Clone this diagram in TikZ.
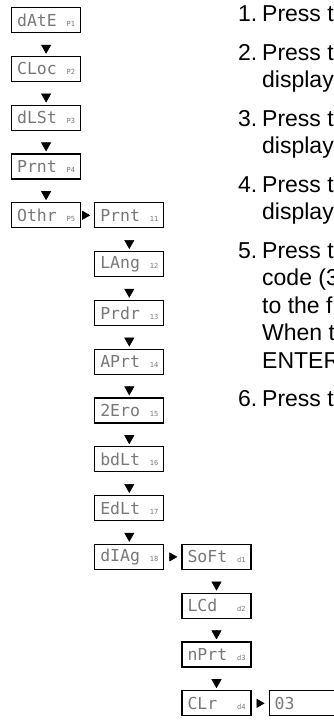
\documentclass[tikz,border=0pt]{standalone}
\usepackage{fontspec}
\setmainfont{Liberation Sans}
\newfontfamily\lcdfont{DejaVu Sans Mono}
\usetikzlibrary{positioning,arrows.meta}
\definecolor{LcdGray}{RGB}{120,120,120}
\newcommand{\lcd}[2]{\makebox[58pt][l]{\fontsize{16.5}{16.5}\selectfont #1\hfill\fontsize{7}{7}\selectfont #2}}

\begin{document}
\begin{tikzpicture}[x=1pt,y=-1pt,node distance=22.6pt and 13pt,
  menu/.style={draw,line width=1.2pt,minimum width=69pt,minimum height=25pt,inner sep=0pt,text=LcdGray,font=\lcdfont},
  vstep/.style={-{Triangle[length=9pt,width=10pt]},line width=0.6pt,shorten <=11.6pt,shorten >=2pt},
  hstep/.style={-{Triangle[length=8pt,width=9pt]},line width=0.6pt,shorten <=5pt,shorten >=4pt},
  num/.style={anchor=base west,inner sep=0pt,font=\fontsize{23}{27}\selectfont},
  txt/.style={anchor=base west,inner sep=0pt,font=\fontsize{23}{27}\selectfont}]
\useasboundingbox (0,0) rectangle (334,721);
% main menu
\node[menu,anchor=north west] (date) at (11,7) {\lcd{dAtE}{P1}};
\node[menu,below=of date] (cloc) {\lcd{CLoc}{P2}};
\node[menu,below=of cloc] (dlst) {\lcd{dLSt}{P3}};
\node[menu,below=of dlst] (prntp) {\lcd{Prnt}{P4}};
\node[menu,below=of prntp] (othr) {\lcd{Othr}{P5}};
% others
\node[menu,right=of othr] (prnt) {\lcd{Prnt}{11}};
\node[menu,below=of prnt] (lang) {\lcd{LAng}{12}};
\node[menu,below=of lang] (prdr) {\lcd{Prdr}{13}};
\node[menu,below=of prdr] (aprt) {\lcd{APrt}{14}};
\node[menu,below=of aprt] (zero) {\lcd{2Ero}{15}};
\node[menu,below=of zero] (bdlt) {\lcd{bdLt}{16}};
\node[menu,below=of bdlt] (edlt) {\lcd{EdLt}{17}};
\node[menu,below=of edlt] (diag) {\lcd{dIAg}{18}};
% diagnostics
\node[menu,right=17pt of diag] (soft) {\lcd{SoFt}{d1}};
\node[menu,below=of soft] (lcd) {\lcd{LCd}{d2}};
\node[menu,below=of lcd] (nprt) {\lcd{nPrt}{d3}};
\node[menu,below=of nprt] (clr) {\lcd{CLr}{d4}};
\node[menu,right=17pt of clr] (val) {\lcd{03}{}};
\draw[vstep] (date) -- (cloc);
\draw[vstep] (cloc) -- (dlst);
\draw[vstep] (dlst) -- (prntp);
\draw[vstep] (prntp) -- (othr);
\draw[hstep,shorten <=2pt] (othr) -- (prnt);
\draw[vstep] (prnt) -- (lang);
\draw[vstep] (lang) -- (prdr);
\draw[vstep] (prdr) -- (aprt);
\draw[vstep] (aprt) -- (zero);
\draw[vstep] (zero) -- (bdlt);
\draw[vstep] (bdlt) -- (edlt);
\draw[vstep] (edlt) -- (diag);
\draw[hstep] (diag) -- (soft);
\draw[vstep] (soft) -- (lcd);
\draw[vstep] (lcd) -- (nprt);
\draw[vstep] (nprt) -- (clr);
\draw[hstep] (clr) -- (val);
% steps
\node[num] (n1) at (238,21.7) {1.};
\node[txt] (l1) at (262,21.7) {Press t};
\node[num] (n2) at (238,60.2) {2.};
\node[txt] (l2) at (262,60.2) {Press t};
\node[txt] (l3) at (262,87.7) {display};
\node[num] (n3) at (238,126.2) {3.};
\node[txt] (l4) at (262,126.2) {Press t};
\node[txt] (l5) at (262,153.7) {display};
\node[num] (n4) at (238,192.2) {4.};
\node[txt] (l6) at (262,192.2) {Press t};
\node[txt] (l7) at (262,219.7) {display};
\node[num] (n5) at (238,258.2) {5.};
\node[txt] (l8) at (262,258.2) {Press t};
\node[txt] (l9) at (262,285.7) {code (3};
\node[txt] (l10) at (262,313.2) {to the f};
\node[txt] (l11) at (262,340.7) {When t};
\node[txt] (l12) at (262,368.2) {ENTER};
\node[num] (n6) at (238,406.7) {6.};
\node[txt] (l13) at (262,406.7) {Press t};
\end{tikzpicture}
\end{document}
